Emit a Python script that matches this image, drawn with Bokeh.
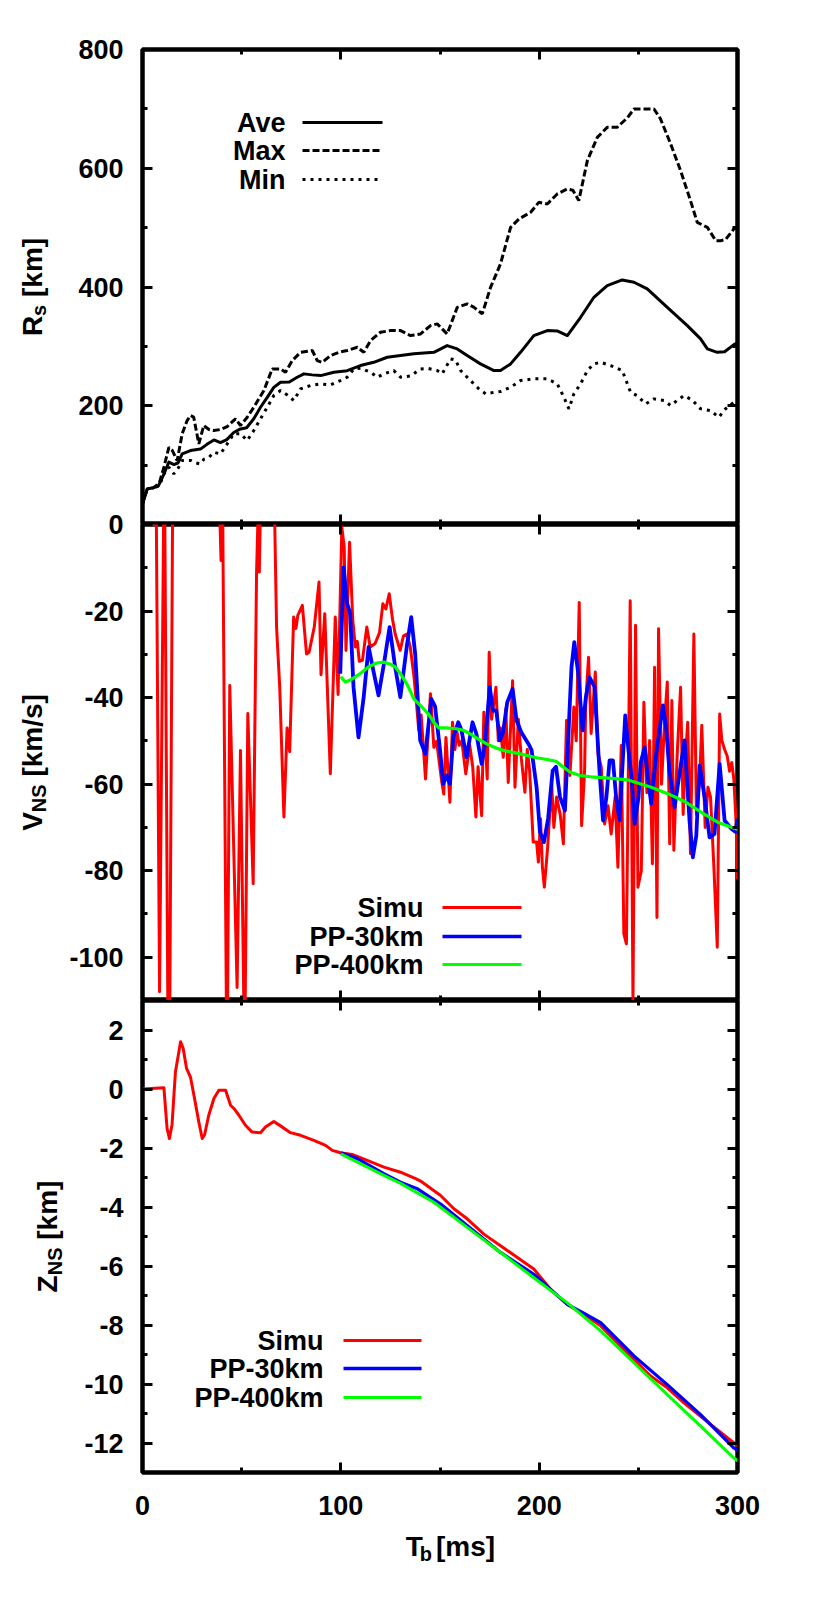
import math
from bokeh.plotting import figure
from bokeh.layouts import column, row
from bokeh.models import (Range1d, LinearAxis, SingleIntervalTicker, FixedTicker, Label, Arrow,
                          CustomJSTickFormatter)
from bokeh.embed import file_html
from bokeh.resources import INLINE

# ---------------- data ----------------
# Panel 1: shock radius R_s [km]
ave_t = [0, 2.4, 5.6, 8, 10.8, 13.3, 15.9, 18, 20, 24.2,
         29.2, 32.5, 36, 39.3, 42.5, 46, 49.4, 52.5, 56.1, 59.5,
         62.9, 66.2, 69.6, 74, 78, 81.4, 85.5, 89.8, 96.5, 103.2,
         109.9, 116.6, 123.4, 130.1, 136.8, 140.2, 146.9, 153.6, 158.7, 163.7,
         170.4, 177.2, 180.5, 185.6, 190.6, 197.3, 204.1, 209.1, 214.2, 220.9,
         227.6, 234.3, 241.9, 247.8, 254.5, 264.6, 274.7, 281.4, 284.8, 289.8,
         293.5, 298.2, 300]
ave_r = [35, 60, 62, 65, 85, 105, 101, 104, 119, 124.6,
         127, 135, 142.5, 138, 143, 155, 161, 163, 178, 197.5,
         214, 231, 239.6, 240, 248, 253.7, 252, 250.8, 256.4, 259,
         267.7, 273.2, 281.7, 284.5, 287.4, 288.4, 290, 301.3, 295.7, 284.5,
         270.5, 259.3, 259.3, 270.5, 290, 318.2, 326.6, 326, 318.2, 349,
         382.7, 402.4, 411.9, 408, 396.8, 365.8, 335, 312.6, 295.7, 290,
         291, 303, 306]

max_t = [0, 2.4, 5.6, 8.5, 10.8, 13.3, 15, 17.5, 20, 22.5,
         24.2, 25.8, 28.4, 30.9, 33.5, 36, 39.3, 42.7, 46.9, 49.4,
         52.8, 56.1, 61.2, 65.4, 69.6, 72.1, 75.5, 79.7, 85.6, 88.1,
         90.6, 94.8, 99, 103.2, 108.3, 111.6, 115, 120, 125.1, 130.1,
         135.1, 140.2, 145.2, 148.6, 153.6, 158.7, 163.7, 167, 171.3, 175.5,
         180.5, 185.6, 189.8, 195.7, 199.8, 204.1, 209.1, 214.2, 217, 220,
         224.3, 229.3, 234.3, 239.3, 244.4, 247.8, 257.9, 261.2, 266.3, 271.3,
         276.3, 279.7, 284.8, 289, 291.5, 294, 298.2, 300]
max_r = [35, 60, 62, 70, 96.5, 130, 125, 107.7, 152.7, 175,
         183.5, 181, 135.8, 166.7, 160, 158.2, 160, 165, 178, 166.7,
         180.6, 197.5, 225.6, 262, 262, 256.4, 276, 290, 293, 276,
         273, 284.5, 290, 293, 298.5, 290, 309.8, 323.8, 326.6, 326.6,
         318.2, 321, 335, 337.9, 321, 365.8, 371.5, 366, 354.7, 399.5,
         438.9, 500.5, 514.6, 525.8, 542.6, 539.9, 556.7, 565.2, 563, 545.5,
         612.8, 652, 668.9, 669, 684.7, 699.8, 699.8, 683, 640.9, 596,
         545.5, 508.9, 500.5, 478, 478, 480, 497.8, 500]

min_t = [0, 2.4, 5.6, 8.5, 10.8, 13.3, 15.8, 18, 20, 24.2,
         26.5, 29.2, 31, 33.5, 36, 39.3, 42.7, 46, 49.4, 52.8,
         56.1, 59.5, 62.9, 66.2, 69.6, 73, 76.3, 79.7, 84.7, 89.8,
         94.8, 99.8, 103.2, 106.6, 110, 115, 118.4, 121.7, 126.7, 130.1,
         135, 140.2, 144, 148.6, 151.1, 155.3, 157.8, 160.4, 165.4, 169.6,
         173, 177.2, 180.5, 185.6, 190.6, 197.3, 204.1, 209.1, 212.5, 215,
         217.5, 220.9, 224.3, 227.6, 231, 236, 241.9, 246.1, 249.4, 253.7,
         257.9, 262.9, 266.3, 270, 273, 277, 281.4, 286.4, 290.6, 294,
         298.2, 300]
min_r = [35, 60, 62, 65, 85, 96.5, 85.3, 95, 107.7, 108,
         104, 102, 110, 113, 121.7, 118.8, 135.8, 152.7, 153, 141.4,
         158.2, 178, 197.5, 217.2, 225.6, 218, 208.8, 228.5, 234, 236.9,
         235, 242.4, 248, 262, 263, 256.4, 248, 253.7, 259.3, 248,
         250, 262, 263, 259.3, 253.7, 278.9, 277, 259.3, 242.4, 228.5,
         220, 222.7, 224, 231.1, 242.4, 245.3, 245.3, 236.9, 214.3, 194.8,
         220, 236.9, 259.3, 270.5, 273.2, 267.7, 259.3, 222.7, 217, 203.2,
         211.6, 208.8, 200.3, 210, 217.2, 210, 194.8, 191.9, 180.6, 195,
         205.9, 205]

# Panel 2: NS velocity V_NS [km/s]
vsim_t = [0, 7, 8.6, 11, 13.3, 15.5, 38.5, 39.6, 40.4, 42.6,
          44, 47.7, 49.4, 51.5, 53.1, 55.8, 57.5, 58.3, 58.9, 59.5,
          66.5, 67.6, 69.2, 71.3, 72.9, 74.2, 76.2, 77.4, 78.3, 80.6,
          82.7, 84, 86.6, 89, 90, 91.9, 94.7, 97.2, 98.6, 100.5,
          101.7, 102.6, 104.4, 106, 107.3, 108.3, 109.3, 110.9, 113.1, 114.8,
          117.3, 119.5, 121.2, 122.7, 124.4, 126.1, 127.4, 129.9, 131.6, 133.3,
          135, 136.8, 138.3, 139.3, 140.5, 142.7, 145.2, 146.9, 148.3, 150.8,
          151.9, 153, 155, 156.3, 157.5, 158.6, 159.7, 161, 163, 165,
          166.5, 168.1, 169.2, 171, 172.1, 173.8, 174.8, 176, 178.2, 179.4,
          180.5, 181.9, 183.2, 184.4, 186.6, 187.8, 189.5, 191, 192.8, 194,
          195.2, 197, 198.7, 199.6, 200.7, 201.6, 202.6, 204.2, 206.3, 207.4,
          208.8, 210.6, 212.2, 213.8, 215.5, 217.5, 218.7, 220.2, 221.4, 222.9,
          223.5, 224.9, 226.2, 228.3, 229.7, 231.3, 233, 234.7, 236.3, 238.3,
          239.7, 241.4, 242.7, 244, 245.9, 247.3, 248.6, 249.8, 251.5, 252.8,
          254.3, 255.7, 257.1, 258.2, 259.4, 260.2, 261.7, 263.3, 264.6, 265.8,
          266.9, 267.9, 269.6, 271.3, 272.6, 273.6, 274.9, 276.3, 278, 279.3,
          280.9, 282, 283.7, 285.1, 286.4, 288.1, 289.8, 291, 292.1, 293.5,
          294.8, 296, 297.1, 298.2, 299.4, 300]
vsim_v = [0, 0, -108, 20, -150, 30, 10, -8.3, 5, -130,
          -37.2, -107, -52.2, -125, -43.7, -83, -11.4, 3, -11, 5,
          5, -23.7, -37.7, -67.6, -47, -52.5, -21.4, -24, -21, -18.7,
          -29.9, -29.5, -23.7, -13.3, -34.7, -20.6, -57.6, -21.4, -39.3, -0.6,
          -5.2, -29.1, -4.1, -22, -28.3, -27, -31.6, -31.4, -23.7, -28.3,
          -27.5, -25, -18.3, -19.5, -16, -22, -25.3, -29.1, -25.7, -25.3,
          -28.3, -34.8, -42.2, -47.6, -44, -58.8, -39.1, -51.5, -50.1, -59.2,
          -62.3, -49.2, -64.2, -45.7, -52, -48, -51, -50, -57.6, -51,
          -56, -67.6, -56, -67.3, -43.4, -58.8, -29.5, -45, -37.6, -50,
          -47, -53.8, -42.6, -59.6, -36.1, -60.7, -45, -54, -61.9, -52,
          -57, -73.4, -73.4, -78, -68, -79, -83.8, -75, -59.9, -70,
          -63, -67, -73.8, -45.3, -58, -42.2, -50, -18, -69.6, -57,
          -41, -30.7, -48.3, -34.1, -53, -56, -69.2, -65, -71.5, -63,
          -79.2, -51.1, -94.6, -96.9, -17.6, -110, -23.3, -83.8, -80, -41.1,
          -62, -49.9, -78.4, -33, -90.8, -24.1, -60, -45, -36.4, -73.8,
          -40.7, -75.3, -53, -37.6, -67, -55, -45.7, -76.1, -25.3, -67,
          -59, -46.4, -70, -60.7, -63, -79.2, -97.7, -43.8, -49.9, -52,
          -53.5, -57, -55, -59, -70, -82]

v30_t = [99.7, 101.4, 103.1, 104.7, 106.4, 108.9, 111.5, 114, 116.5, 119,
         121.8, 124.6, 127.4, 130, 133.3, 135.5, 137.5, 140, 142.6, 145.6,
         147.5, 150, 151.6, 153.3, 155, 156.7, 159.2, 160.8, 163.4, 166.4,
         168.4, 171, 172.6, 175.1, 176.7, 178.4, 180.2, 181.8, 183.9, 186.6,
         188.6, 191, 193, 195, 196.2, 198.7, 200.4, 202.4, 204.5, 206.8,
         208.5, 210.5, 213, 214.6, 216.3, 217.7, 219.7, 221.9, 223.5, 225.4,
         227.9, 230.5, 232.2, 233.9, 235.5, 237.2, 238.8, 240.5, 243.4, 245,
         246.7, 248.1, 250.1, 251.2, 253.2, 254.9, 256.5, 259, 262.4, 264,
         265.7, 268.3, 271.6, 273.3, 275.8, 277.5, 279.2, 280.9, 283.4, 285.9,
         288.4, 291, 293.5, 296.9, 298.9, 300]
v30_v = [-34.5, -9.9, -18.1, -20.6, -37.6, -49.2, -40, -28.3, -34, -39.5,
         -32, -23.7, -33, -39.9, -28, -21.4, -30, -49.9, -53, -40.3,
         -42, -52, -59.9, -58, -59.9, -49.2, -45.7, -47.5, -53.8, -45.7,
         -48.5, -55.3, -51, -37.6, -43, -43, -49.9, -48, -41.1, -38,
         -45.3, -48, -49.5, -51, -52.2, -60.7, -71.1, -73.4, -68, -56.9,
         -56, -63, -66.1, -50, -33, -27.2, -34.5, -47.6, -40, -35.3,
         -37.5, -57.6, -68.4, -63, -54.5, -54.5, -63, -68.4, -44.1, -52,
         -59, -69.2, -63, -55, -51.5, -59, -64.5, -53, -41.8, -47,
         -57, -65.3, -55, -49.9, -68.4, -76.9, -72, -55.7, -63, -72.3,
         -71.5, -55.3, -68.4, -70.3, -71, -68]

v400_t = [100, 102.2, 104.5, 107.3, 110.5, 114, 118, 121.6, 125, 127.4,
          130.1, 133.5, 136.8, 140.5, 144.2, 147, 149.4, 153, 158.3, 161.5,
          164.9, 169, 173.5, 178, 181.9, 186, 190.3, 195, 198.7, 204,
          208.5, 211.5, 215.5, 220.5, 226, 232, 239.7, 244.4, 248.1, 256.5,
          264.9, 273.3, 281.7, 290, 298.3, 300]
v400_v = [-35.2, -36.4, -36, -35.2, -34.2, -32.9, -32, -31.8, -32.3, -32.9,
          -34.5, -37, -40.3, -42, -43.8, -45.8, -47, -47, -47.2, -47.5,
          -48.3, -49.5, -50.7, -51.6, -52.2, -52.6, -53, -53.5, -53.9, -54.3,
          -54.7, -55.8, -57.2, -58, -58.3, -58.5, -58.8, -59, -59.5, -60.7,
          -62.2, -64, -66.5, -68.8, -70.2, -70.4]

# Panel 3: NS position Z_NS [km]
zsim_t = [0, 10.8, 12.4, 13.6, 14.9, 16.6, 19.2, 20.5, 22.2, 24.2,
          25.9, 28.4, 30.1, 31.3, 33.4, 36, 38.5, 41.9, 44.4, 46.1,
          48.6, 51.9, 55.3, 59.5, 62, 66.2, 69.6, 74.6, 79.7, 86.4,
          92.3, 95.7, 99.8, 105.7, 113.3, 121.7, 130.1, 137.7, 140.2, 150.3,
          157, 163.7, 172.1, 180.5, 189, 197.3, 205.7, 214.2, 222.5, 231,
          239.4, 247.8, 256.2, 264.6, 273, 281.4, 289.8, 298.2, 300]
zsim_z = [0, 0.04, -1.34, -1.68, -1.2, 0.58, 1.6, 1.38, 0.7, 0.4,
          -0.2, -1.12, -1.68, -1.55, -0.89, -0.32, -0.04, -0.04, -0.55, -0.66,
          -0.89, -1.23, -1.46, -1.48, -1.29, -1.1, -1.25, -1.48, -1.57, -1.74,
          -1.91, -2.08, -2.16, -2.22, -2.42, -2.65, -2.82, -3.04, -3.12, -3.61,
          -4.06, -4.4, -4.92, -5.31, -5.71, -6.1, -6.79, -7.3, -7.64, -8.03,
          -8.6, -9.17, -9.73, -10.13, -10.64, -11.1, -11.55, -12.0, -12.1]

z30_t = [100, 108.3, 121.7, 130.1, 138.5, 150.3, 163.7, 180.5, 197.3, 205.7,
         214.2, 222.5, 231, 247.8, 264.6, 281.4, 298.2, 300]
z30_z = [-2.16, -2.36, -2.87, -3.16, -3.38, -3.9, -4.63, -5.54, -6.28, -6.79,
         -7.3, -7.6, -7.92, -9.05, -10.02, -11.04, -12.17, -12.25]

z400_t = [100, 121.7, 130.1, 146.9, 163.7, 180.5, 197.3, 214.2, 231, 247.8,
          264.6, 281.4, 298.2, 300]
z400_z = [-2.2, -2.93, -3.2, -3.84, -4.69, -5.54, -6.4, -7.25, -8.2, -9.28,
          -10.36, -11.43, -12.51, -12.6]

x_range_ms = (0, 300)
r_range = (0, 800)
v_range = (-110, 0)
z_range = (-13, 3)
r_major = [200, 400, 600, 800]
r_minor = [100, 300, 500, 700]

# ---------------- layout (page pixels) ----------------
FONT = "Liberation Sans"
LABW = 65                      # left column holding the y titles
FRAME_L = 142                  # page x of the frame's left edge
FRAME_W = 595
RIGHT = 61
W = FRAME_L - LABW + FRAME_W + RIGHT
MIN_L = FRAME_L - LABW
TOP1 = 49
H1F, H2F, H3F = 475, 476, 472
OV = 20                        # panel 2 reaches up over panel 1's edge for its "0" label
BOT3 = 50
HX = 70
P1_TOP = TOP1
P2_TOP = P1_TOP + H1F
P3_TOP = P2_TOP + H2F
HTOT = TOP1 + H1F + H2F + H3F + BOT3 + HX
XF_TOP = P3_TOP + H3F + BOT3

ADV = {"R": .722, "s": .556, " ": .278, "[": .333, "k": .556, "m": .889, "]": .333,
       "V": .667, "N": .722, "S": .667, "/": .278, "Z": .611, "T": .611, "b": .611}


def adv(t, size):
    return sum(ADV.get(c, .556) for c in t) * size


def px_x(X):
    return x_range_ms[0] + (X - FRAME_L) * (x_range_ms[1] - x_range_ms[0]) / FRAME_W


def make_conv(top, fh, yr):
    return lambda Y: yr[1] - (Y - top) * (yr[1] - yr[0]) / fh


def style_axis(ax, labels, standoff):
    ax.axis_line_color = None
    ax.major_tick_in = 10
    ax.major_tick_out = 0
    ax.minor_tick_in = 5
    ax.minor_tick_out = 0
    ax.major_tick_line_width = 3
    ax.minor_tick_line_width = 3
    ax.major_tick_line_color = "black"
    ax.minor_tick_line_color = "black"
    if labels:
        ax.formatter = CustomJSTickFormatter(code="return tick.toFixed(0)")
        ax.major_label_text_font = FONT
        ax.major_label_text_font_style = "bold"
        ax.major_label_text_font_size = "27px"
        ax.major_label_text_color = "black"
        ax.major_label_standoff = standoff
    else:
        ax.major_label_text_color = None
        ax.major_label_standoff = 0


def make_panel(yr, yticker, height, top, bottom, xlabels):
    p = figure(width=W, height=height, x_range=Range1d(*x_range_ms), y_range=Range1d(*yr),
               output_backend="svg", toolbar_location=None, title=None,
               x_axis_location=None, y_axis_location=None,
               min_border_left=MIN_L, min_border_right=RIGHT,
               min_border_top=top, min_border_bottom=bottom)
    p.grid.visible = False
    p.outline_line_color = "black"
    p.outline_line_width = 4.5
    p.background_fill_color = "white"
    p.border_fill_color = "white"
    for side in ("below", "above"):
        ax = LinearAxis(ticker=SingleIntervalTicker(interval=100, num_minor_ticks=2))
        style_axis(ax, xlabels and side == "below", 23)
        p.add_layout(ax, side)
    for side in ("left", "right"):
        ax = LinearAxis(ticker=yticker)
        style_axis(ax, side == "left", 19)
        p.add_layout(ax, side)
    return p


def txt(p, x, y, text, size, align="right", baseline="middle", angle=0.0):
    p.add_layout(Label(x=x, y=y, text=text, text_font=FONT, text_font_style="bold",
                       text_font_size=f"{size}px", text_color="black",
                       text_align=align, text_baseline=baseline, angle=angle))


def legend(p, conv, entries, text_right, x0, x1, rows):
    for (name, color, dash, lw), Y in zip(entries, rows):
        txt(p, px_x(text_right), conv(Y), name, 27)
        p.add_layout(Arrow(start=None, end=None, x_start=px_x(x0), y_start=conv(Y),
                           x_end=px_x(x1), y_end=conv(Y), line_color=color,
                           line_width=lw, line_dash=dash))


def blank_fig(width, height, xr, yr):
    f = figure(width=width, height=height, x_range=Range1d(*xr), y_range=Range1d(*yr),
               output_backend="svg", toolbar_location=None, title=None,
               x_axis_location=None, y_axis_location=None,
               min_border_left=0, min_border_right=0, min_border_top=0, min_border_bottom=0)
    f.grid.visible = False
    f.outline_line_color = None
    f.background_fill_color = "white"
    f.border_fill_color = "white"
    return f


# ---- panel 1 ----
p1 = make_panel(r_range, FixedTicker(ticks=r_major, minor_ticks=r_minor), TOP1 + H1F, TOP1, 0, False)
c1 = make_conv(P1_TOP, H1F, r_range)
p1.line(ave_t, ave_r, line_color="black", line_width=3, line_join="round")
p1.line(max_t, max_r, line_color="black", line_width=3, line_dash="7 3")
p1.line(min_t, min_r, line_color="black", line_width=3, line_dash="3 5")
legend(p1, c1, [("Ave", "black", "solid", 3), ("Max", "black", "7 3", 3), ("Min", "black", "3 5", 3)],
       285, 302, 382, [122, 150, 179])

# ---- panel 2 ----
p2 = make_panel(v_range, SingleIntervalTicker(interval=20, num_minor_ticks=2), H2F + OV, OV, 0, False)
p2.border_fill_alpha = 0
p2.margin = (-OV, 0, 0, 0)
c2 = make_conv(P2_TOP, H2F, v_range)
p2.line(vsim_t, vsim_v, line_color="#ff0000", line_width=3, line_join="round")
p2.line(v30_t, v30_v, line_color="#0000ff", line_width=3.8, line_join="round")
p2.line(v400_t, v400_v, line_color="#00ff00", line_width=3.2, line_join="round")
legend(p2, c2, [("Simu", "#ff0000", "solid", 3), ("PP-30km", "#0000ff", "solid", 3.5),
                ("PP-400km", "#00ff00", "solid", 3)], 423, 442, 521, [907, 936, 964])

# ---- panel 3 ----
p3 = make_panel(z_range, SingleIntervalTicker(interval=2, num_minor_ticks=2), H3F + BOT3, 0, BOT3, True)
c3 = make_conv(P3_TOP, H3F, z_range)
p3.line(zsim_t, zsim_z, line_color="#ff0000", line_width=3, line_join="round")
p3.line(z30_t, z30_z, line_color="#0000ff", line_width=3.2, line_join="round")
p3.line(z400_t, z400_z, line_color="#00ff00", line_width=3, line_join="round")
legend(p3, c3, [("Simu", "#ff0000", "solid", 3), ("PP-30km", "#0000ff", "solid", 3.5),
                ("PP-400km", "#00ff00", "solid", 3)], 323, 343, 421, [1340, 1368, 1397])

# ---- y titles (left column, page-pixel coordinates) ----
lab = blank_fig(LABW, HTOT, (0, LABW), (HTOT, 0))


def vtitle(pieces, Xbase, Ycenter):
    L = sum(adv(t, s) for t, s, sub in pieces)
    Y = Ycenter + L / 2
    for t, s, sub in pieces:
        lead = len(t) - len(t.lstrip(" "))
        Y -= adv(" " * lead, s)
        t = t.lstrip(" ")
        X = Xbase + (7 if sub else 0)
        txt(lab, X, Y, t, s, align="left", baseline="alphabetic", angle=math.pi / 2)
        Y -= adv(t, s)


vtitle([("R", 28, False), ("s", 20, True), (" [km]", 28, False)], 31.5, (P1_TOP + P2_TOP) / 2)
vtitle([("V", 28, False), ("NS", 20, True), (" [km/s]", 28, False)], 31.5, (P2_TOP + P3_TOP) / 2)
vtitle([("Z", 28, False), ("NS", 20, True), (" [km]", 28, False)], 47, P3_TOP + H3F / 2)

# ---- x title (strip below panel 3, page-pixel coordinates) ----
xf = blank_fig(W, HX, (LABW, LABW + W), (XF_TOP + HX, XF_TOP))
pieces = [("T", 28, False), ("b", 20, True), (" [ms]", 28, False)]
L = sum(adv(t, s) for t, s, sub in pieces)
X = 437.5 - L / 2
for t, s, sub in pieces:
    lead = len(t) - len(t.lstrip(" "))
    X += adv(" " * lead, s)
    t = t.lstrip(" ")
    Y = 1546 + (7 if sub else 0)
    txt(xf, X, Y, t, s, align="left", baseline="alphabetic")
    X += adv(t, s)

layout = row(lab, column(p1, p2, p3, xf))
open("out.html", "w").write(file_html(layout, INLINE))
